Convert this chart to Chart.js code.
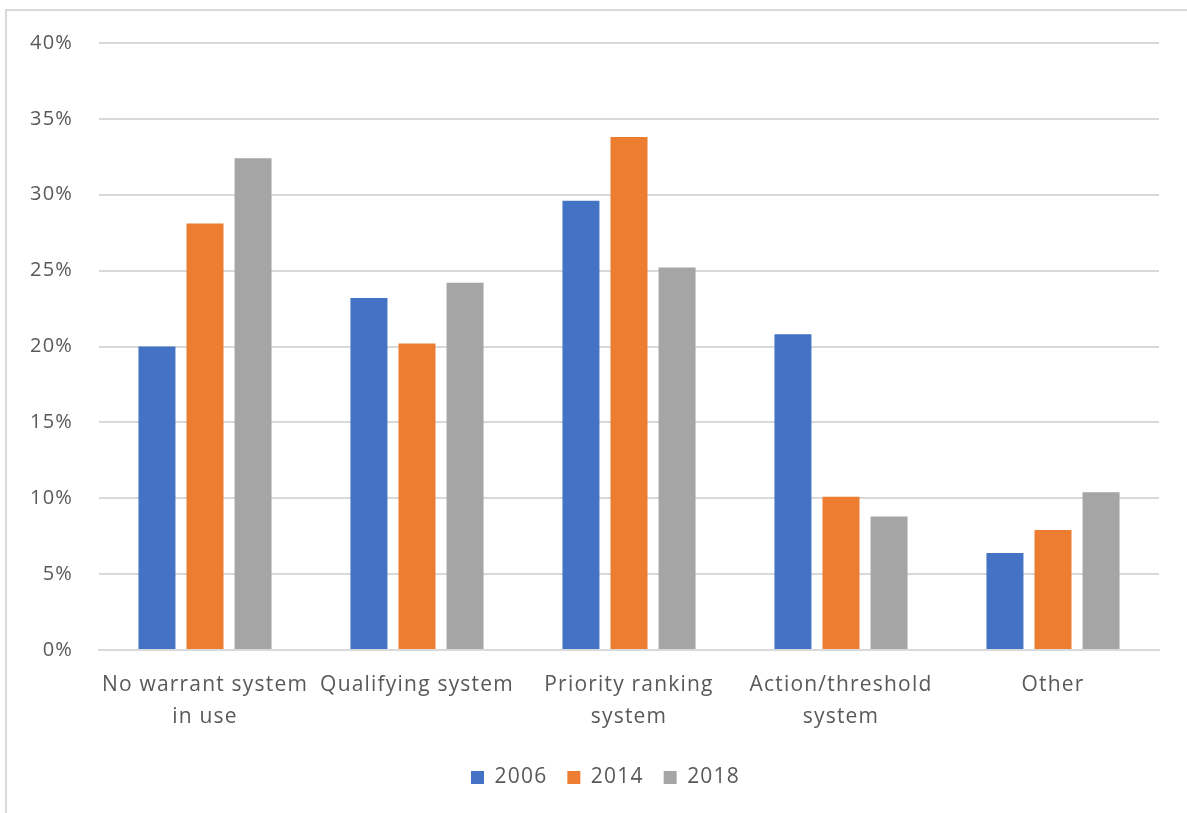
<!DOCTYPE html>
<html>
<head>
<meta charset="utf-8">
<script src="https://cdn.jsdelivr.net/npm/chart.js@4"></script>
<style>
  html, body { margin: 0; padding: 0; background: #fff; overflow: hidden; }
  #frame {
    position: absolute; left: 5px; top: 9px;
    width: 1300px; height: 900px;
    border: 2px solid #d9d9d9;
  }
  #wrap { position: absolute; left: 0; top: 0; width: 1187px; height: 813px; }
</style>
</head>
<body>
<div id="frame"></div>
<div id="wrap"><canvas id="warrantChart"></canvas></div>
<script>
// survey share by warrant system type
const categories = [
    ['No warrant system', 'in use'],
    'Qualifying system',
    ['Priority ranking', 'system'],
    ['Action/threshold', 'system'],
    'Other'
];
const years = ['2006', '2014', '2018'];
const values2006 = [20.0, 23.2, 29.6, 20.8, 6.4];
const values2014 = [28.1, 20.2, 33.8, 10.1, 7.9];
const values2018 = [32.4, 24.2, 25.2, 8.8, 10.4];
const yTicks = [0, 5, 10, 15, 20, 25, 30, 35, 40];

const colors = ['#4472C4', '#ED7D31', '#A5A5A5'];
const textColor = '#595959';
const fontFamily = '"Open Sans", Lato, sans-serif';

const seriesValues = [values2006, values2014, values2018];

// a little extra tracking on all chart text (canvas state is reset on resize,
// so set it again before layout and before each draw)
const textSpacing = {
    id: 'textSpacing',
    beforeLayout(chart) { chart.ctx.letterSpacing = '1.2px'; },
    beforeDraw(chart) { chart.ctx.letterSpacing = '1.2px'; }
};

// nudge the legend row to the right so it sits under the plot
const legendShift = {
    id: 'legendShift',
    afterLayout(chart) {
        if (chart.legend) {
            chart.legend.left += 26;
            chart.legend.right += 26;
        }
    }
};

const ctx = document.getElementById('warrantChart').getContext('2d');
const warrantChart = new Chart(ctx, {
    type: 'bar',
    data: {
        labels: categories,
        datasets: years.map((y, i) => ({
            label: y,
            data: seriesValues[i],
            backgroundColor: colors[i],
            borderWidth: 0,
            categoryPercentage: 0.68,
            barPercentage: 0.77
        }))
    },
    plugins: [textSpacing, legendShift],
    options: {
        responsive: true,
        maintainAspectRatio: false,
        animation: false,
        layout: { padding: { left: 0, right: 28, top: 43, bottom: 15 } },
        plugins: {
            tooltip: { enabled: false },
            legend: {
                position: 'bottom',
                labels: {
                    boxWidth: 13,
                    boxHeight: 13,
                    padding: 20,
                    color: textColor,
                    font: { family: fontFamily, size: 21 }
                }
            }
        },
        scales: {
            x: {
                grid: { display: false, drawTicks: false },
                border: { display: true, color: '#d9d9d9', width: 2 },
                ticks: {
                    color: textColor,
                    padding: 19,
                    maxRotation: 0,
                    autoSkip: false,
                    font: { family: fontFamily, size: 21, lineHeight: 1.52 }
                },
                afterFit: scale => { scale.height = 97; }
            },
            y: {
                min: 0,
                max: 40,
                afterBuildTicks: scale => {
                    scale.ticks = yTicks.map(v => ({ value: v }));
                },
                grid: { color: '#d9d9d9', lineWidth: 2, drawTicks: false },
                border: { display: false },
                ticks: {
                    color: textColor,
                    padding: 26,
                    font: { family: fontFamily, size: 20 },
                    callback: v => v + '%'
                },
                afterFit: scale => { scale.width = 99; }
            }
        }
    }
});
</script>
</body>
</html>
